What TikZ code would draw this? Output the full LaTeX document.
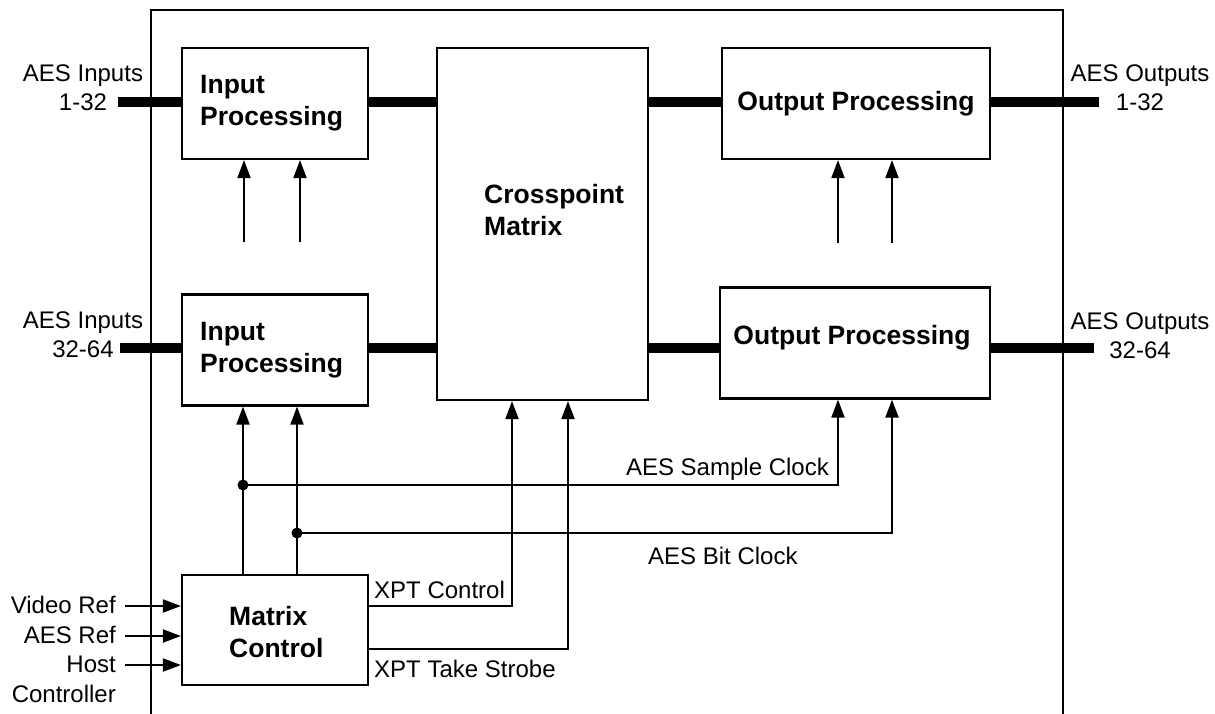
\documentclass[tikz,border=0pt]{standalone}
\usepackage{fontspec}
\setmainfont{Liberation Sans}
\usetikzlibrary{arrows.meta}
\begin{document}
\begin{tikzpicture}[x=1pt,y=-1pt,
  box/.style={draw,line width=2.2pt,rectangle,inner sep=0pt,font=\fontsize{26.5}{32}\selectfont\bfseries,align=left},
  btxt/.style={font=\fontsize{26.5}{32}\selectfont\bfseries,align=left,inner sep=0pt},
  lbl/.style={font=\fontsize{24}{29}\selectfont,inner sep=0pt},
  bus/.style={line width=10pt},
  arr/.style={line width=2pt,-{Triangle[length=18pt,width=13pt]}},
  dot/.style={circle,fill,inner sep=0pt,minimum size=11pt}]
\useasboundingbox (0,0) rectangle (1215,714);
% outer frame
\draw[line width=2pt] (151,714) -- (151,10) -- (1063,10) -- (1063,714);
% boxes
\node[box,minimum width=186pt,minimum height=111pt] (ip1) at (275,103.5) {};
\node[btxt,anchor=west] (ip1t) at (200,103.5) {Input\\Processing};
\node[box,minimum width=186pt,minimum height=111pt] (ip2) at (275,350) {};
\node[btxt,anchor=west] (ip2t) at (200,350) {Input\\Processing};
\node[box,minimum width=211pt,minimum height=352pt] (xp) at (542.5,224) {};
\node[btxt,anchor=west] (xpt) at (484,210) {Crosspoint\\Matrix};
\node[box,minimum width=268pt,minimum height=111pt] (op1) at (856,103.5) {Output Processing};
\node[box,minimum width=270pt,minimum height=111pt] (op2) at (855,343) {};
\node[btxt] (op2t) at (852,338) {Output Processing};
\node[box,minimum width=186pt,minimum height=110pt] (mc) at (275,630) {};
\node[btxt,anchor=west] (mct) at (229,632) {Matrix\\Control};
% buses
\coordinate (in1) at (118,102);
\coordinate (in2) at (120,348);
\coordinate (out1) at (1099,102);
\coordinate (out2) at (1094,348);
\draw[bus] (in1) -- (in1-|ip1.west);
\draw[bus] (in1-|ip1.east) -- (in1-|xp.west);
\draw[bus] (in1-|xp.east) -- (in1-|op1.west);
\draw[bus] (in1-|op1.east) -- (out1);
\draw[bus] (in2) -- (in2-|ip2.west);
\draw[bus] (in2-|ip2.east) -- (in2-|xp.west);
\draw[bus] (in2-|xp.east) -- (in2-|op2.west);
\draw[bus] (in2-|op2.east) -- (out2);
% bus labels
\node[lbl,align=center] (linp1) at (83,88) {AES Inputs\\1-32};
\node[lbl,align=center] (linp2) at (83,335) {AES Inputs\\32-64};
\node[lbl,align=center] (lout1) at (1140,88) {AES Outputs\\1-32};
\node[lbl,align=center] (lout2) at (1140,336) {AES Outputs\\32-64};
% loose upward arrows
\coordinate (a1) at (244,242);
\coordinate (a2) at (300,242);
\coordinate (a3) at (838,243);
\coordinate (a4) at (892,243);
\draw[arr] (a1) -- (a1|-ip1.south);
\draw[arr] (a2) -- (a2|-ip1.south);
\draw[arr] (a3) -- (a3|-op1.south);
\draw[arr] (a4) -- (a4|-op1.south);
% clock distribution
\coordinate (j1) at (243,485);
\coordinate (j2) at (297,533);
\coordinate (sc) at (838,485);
\coordinate (bc) at (892,533);
\draw[arr] (j1|-mc.north) -- (j1|-ip2.south);
\draw[arr] (j2|-mc.north) -- (j2|-ip2.south);
\draw[arr] (j1) -- (sc) -- (sc|-op2.south);
\draw[arr] (j2) -- (bc) -- (bc|-op2.south);
\node[dot] (d1) at (j1) {};
\node[dot] (d2) at (j2) {};
\node[lbl,anchor=base east] (lsc) at (829,475) {AES Sample Clock};
\node[lbl,anchor=base west] (lbc) at (648,564) {AES Bit Clock};
% XPT control
\coordinate (x1) at (512,606);
\coordinate (x2) at (568,649);
\draw[arr] (x1-|mc.east) -- (x1) -- (x1|-xp.south);
\draw[arr] (x2-|mc.east) -- (x2) -- (x2|-xp.south);
\node[lbl,anchor=base west] (lxc) at (374,598) {XPT Control};
\node[lbl,anchor=base west] (lxs) at (374,677) {XPT Take Strobe};
% matrix control inputs
\coordinate (v) at (125,606);
\coordinate (r) at (125,636);
\coordinate (h) at (125,665);
\draw[arr] (v) -- (v-|mc.west);
\draw[arr] (r) -- (r-|mc.west);
\draw[arr] (h) -- (h-|mc.west);
\node[lbl,anchor=base east] (lv) at (116,613) {Video Ref};
\node[lbl,anchor=base east] (lr) at (116,643) {AES Ref};
\node[lbl,anchor=base east] (lh) at (116,672) {Host};
\node[lbl,anchor=base east] (lc) at (116,702) {Controller};
\end{tikzpicture}
\end{document}
